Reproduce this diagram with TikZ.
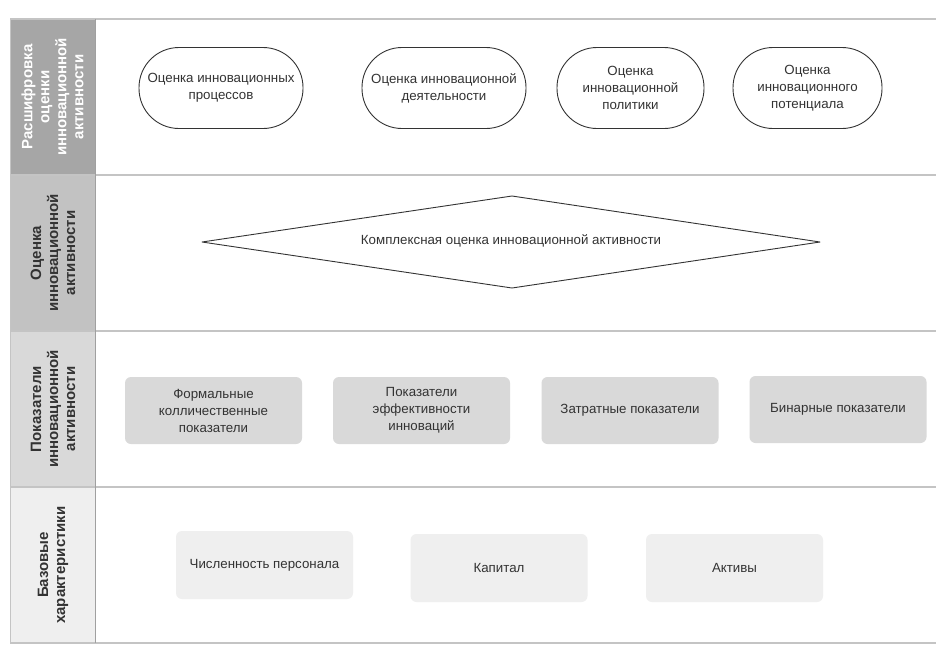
\documentclass[tikz,border=0pt]{standalone}
\usepackage{fontspec}
\setmainfont{Liberation Sans}
\usetikzlibrary{positioning}
\definecolor{lineg}{HTML}{C4C4C4}
\definecolor{lab1}{HTML}{A6A6A6}
\definecolor{lab2}{HTML}{C2C2C2}
\definecolor{lab3}{HTML}{D9D9D9}
\definecolor{lab4}{HTML}{EFEFEF}
\definecolor{txt}{HTML}{333333}
\definecolor{sep}{HTML}{A0A0A0}
\tikzset{
  lanelabel/.style={rotate=90, align=center, font=\fontsize{15}{17}\selectfont\bfseries, inner sep=0pt},
  stadium/.style={draw=txt, line width=0.9pt, rounded corners=40pt, minimum width=164pt, minimum height=81pt, align=center, text=txt, font=\fontsize{13.3}{17}\selectfont, inner sep=0pt},
  indbox/.style={fill=lab3, rounded corners=6pt, minimum width=177pt, minimum height=67pt, align=center, text=txt, font=\fontsize{13.3}{17}\selectfont, inner sep=0pt},
  basebox/.style={fill=lab4, rounded corners=6pt, minimum width=177pt, minimum height=68pt, align=center, text=txt, font=\fontsize{13.3}{17}\selectfont, inner sep=0pt},
  rowline/.style={draw=lineg, line width=1.6pt}
}
\begin{document}
\begin{tikzpicture}[x=1pt,y=-1pt]
\useasboundingbox (0,0) rectangle (936,659);
\fill[white] (0,0) rectangle (936,659);
% label column backgrounds
\fill[lab1] (10,19) rectangle (95,175);
\fill[lab2] (10,175) rectangle (95,331);
\fill[lab3] (10,331) rectangle (95,487);
\fill[lab4] (10,487) rectangle (95,643);
% row lines
\coordinate (l0) at (10,19); \coordinate (r0) at (936,19);
\coordinate (l1) at (10,175); \coordinate (r1) at (936,175);
\coordinate (l2) at (10,331); \coordinate (r2) at (936,331);
\coordinate (l3) at (10,487); \coordinate (r3) at (936,487);
\coordinate (l4) at (10,643); \coordinate (r4) at (936,643);
\draw[rowline] (l0) -- (r0);
\draw[rowline] (l1) -- (r1);
\draw[rowline] (l2) -- (r2);
\draw[rowline] (l3) -- (r3);
\draw[rowline] (l4) -- (r4);
\draw[lineg, line width=1pt] (l0) -- (l4);
\coordinate (s0) at (95,19); \coordinate (s4) at (95,643);
\draw[sep, line width=1pt] (s0) -- (s4);
% lane labels
\node[lanelabel, text=white] (lab1) at (52.5,97) {Расшифровка\\оценки\\инновационной\\активности};
\node[lanelabel, text=txt] (lab2) at (53,253) {Оценка\\инновационной\\активности};
\node[lanelabel, text=txt] (lab3) at (53,409) {Показатели\\инновационной\\активности};
\node[lanelabel, text=txt] (lab4) at (53,565) {Базовые\\характеристики};
% row 1
\node[stadium] (p1) at (221,88) {Оценка инновационных\\процессов};
\node[stadium] (p2) at (444,88) {Оценка инновационной\\деятельности};
\node[stadium, minimum width=147pt] (p3) at (630.5,88) {Оценка\\инновационной\\политики};
\node[stadium, minimum width=149pt] (p4) at (807.5,88) {Оценка\\инновационного\\потенциала};
% row 2
\coordinate (dl) at (202,242);
\coordinate (dt) at (512,196);
\coordinate (dr) at (820,242);
\coordinate (db) at (512,288);
\draw[txt, line width=0.9pt, line join=round] (dl) -- (dt) -- (dr) -- (db) -- cycle;
\node[text=txt, font=\fontsize{13.3}{17}\selectfont] (d) at (511,241) {Комплексная оценка инновационной активности};
% row 3
\node[indbox] (i1) at (213.5,410.5) {Формальные\\колличественные\\показатели};
\node[indbox] (i2) at (421.5,410.5) {Показатели\\эффективности\\инноваций};
\node[indbox] (i3) at (630,410.5) {Затратные показатели};
\node[indbox] (i4) at (838,409.5) {Бинарные показатели};
% row 4
\node[basebox] (b1) at (264.5,565) {Численность персонала};
\node[basebox] (b2) at (499,568) {Капитал};
\node[basebox] (b3) at (734.5,568) {Активы};
\end{tikzpicture}
\end{document}
